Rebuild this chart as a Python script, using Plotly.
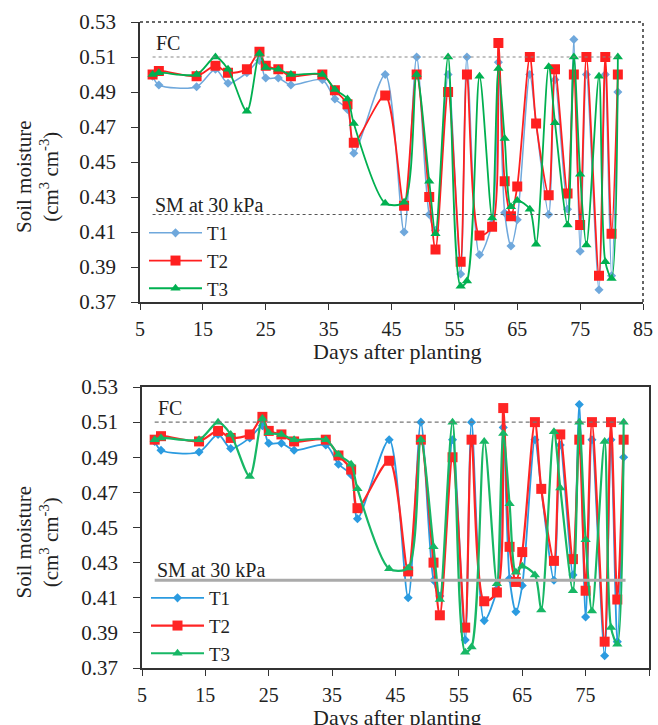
import plotly.graph_objects as go

# ---------------- data ----------------
days = [7, 8, 14, 17, 19, 22, 24, 25, 27, 29,
        34, 36, 38, 39, 44, 47, 49, 51, 52, 54,
        56, 57, 59, 61, 62, 63, 64, 65, 67, 68,
        70, 71, 73, 74, 75, 76, 78, 79, 80, 81]

t1 = [0.499, 0.494, 0.493, 0.503, 0.495, 0.501, 0.508, 0.498, 0.498, 0.494,
      0.497, 0.486, 0.480, 0.455, 0.500, 0.410, 0.510, 0.420, 0.411, 0.500,
      0.386, 0.510, 0.397, 0.415, 0.507, 0.421, 0.402, 0.417, 0.500, 0.472,
      0.420, 0.497, 0.423, 0.520, 0.399, 0.500, 0.377, 0.500, 0.385, 0.490]

t2 = [0.500, 0.502, 0.499, 0.505, 0.501, 0.503, 0.513, 0.505, 0.503, 0.499,
      0.500, 0.491, 0.483, 0.461, 0.488, 0.425, 0.500, 0.430, 0.400, 0.490,
      0.393, 0.500, 0.408, 0.413, 0.518, 0.439, 0.419, 0.436, 0.510, 0.472,
      0.431, 0.503, 0.432, 0.500, 0.414, 0.510, 0.385, 0.510, 0.409, 0.500]

t3 = [0.500, 0.501, 0.500, 0.510, 0.503, 0.479, 0.512, 0.504, 0.503, 0.500,
      0.500, 0.4915, 0.486, 0.472, 0.4265, 0.427, 0.500, 0.439, 0.409, 0.510,
      0.379, 0.382, 0.499, 0.418, 0.5035, 0.4635, 0.4245, 0.428, 0.423, 0.403,
      0.5045, 0.4725, 0.414, 0.510, 0.443, 0.4025, 0.499, 0.393, 0.3835, 0.510]

series_names = ["T1", "T2", "T3"]
fc_value = 0.51
sm30_value = 0.42
ref_start, ref_end = 7, 81.3
x_ticks = [5, 15, 25, 35, 45, 55, 65, 75, 85]
y_ticks = [0.37, 0.39, 0.41, 0.43, 0.45, 0.47, 0.49, 0.51, 0.53]

FONT = "Liberation Serif, Times New Roman, Tinos, DejaVu Serif, serif"
W, H = 658, 725

def px_x(p):
    return p / W

def px_y(p):
    return 1 - p / H

panels = [
    dict(xa="x", ya="y", lg="legend", x0=140, x1=643, y0=22, y1=302,
         colors=["#6FA8DC", "#FF1F1F", "#00B050"], lw=[1.5, 1.8, 1.8]),
    dict(xa="x2", ya="y2", lg="legend2", x0=142, x1=649, y0=387, y1=668,
         colors=["#2B9BE0", "#FF2525", "#17B765"], lw=[1.8, 2.2, 2.2]),
]

symbols = ["diamond", "square", "triangle-up"]
sizes = [7, 10, 9]
values = [t1, t2, t3]

fig = go.Figure()
for p in panels:
    for i in range(3):
        fig.add_trace(go.Scatter(
            x=days, y=values[i], name=series_names[i], mode="lines+markers",
            xaxis=p["xa"], yaxis=p["ya"], legend=p["lg"],
            line=dict(color=p["colors"][i], width=p["lw"][i], shape="spline", smoothing=0.8),
            marker=dict(symbol=symbols[i], size=sizes[i], color=p["colors"][i],
                        line=dict(width=0)),
        ))

layout = dict(
    template="none",
    width=W, height=H, paper_bgcolor="white", plot_bgcolor="white",
    margin=dict(l=0, r=0, t=0, b=0, autoexpand=False), showlegend=True,
    font=dict(family=FONT, color="#222"),
)

shapes = []
annotations = []
for k, p in enumerate(panels):
    sfx = "" if k == 0 else "2"
    layout["xaxis" + sfx] = dict(
        showgrid=False, zeroline=False, ticks="outside", automargin=False,
        tickfont=dict(family=FONT, size=20, color="#222"),
        domain=[px_x(p["x0"]), px_x(p["x1"])], anchor="y" + sfx,
        range=[5, 85], tickvals=x_ticks, ticklen=6, tickcolor="#333", showline=True,
        linecolor="#333", linewidth=1.5, mirror=(k == 1), ticklabelstandoff=2,
    )
    layout["yaxis" + sfx] = dict(
        showgrid=False, zeroline=False, ticks="outside", automargin=False,
        domain=[px_y(p["y1"]), px_y(p["y0"])], anchor="x" + sfx,
        range=[0.37, 0.53], tickvals=y_ticks, tickformat=".2f", ticklen=7, tickcolor="#333",
        showline=True, linecolor="#333", linewidth=1.5, mirror=(k == 1),
        ticklabelstandoff=11, tickfont=dict(family=FONT, size=21, color="#222"),
    )
    layout["legend" + ("" if k == 0 else "2")] = dict(
        x=px_x(p["x0"] + 4), y=px_y(p["y0"] + 192 + (0 if k == 0 else 0)),
        xanchor="left", yanchor="top", bgcolor="rgba(0,0,0,0)",
        font=dict(family=FONT, size=19, color="#222"), itemwidth=53,
        tracegroupgap=0,
    )
    xr, yr = p["xa"], p["ya"]
    if k == 0:
        shapes.append(dict(type="line", xref=xr, yref=yr, x0=ref_start, x1=ref_end,
                           y0=fc_value, y1=fc_value, line=dict(color="#888", width=1.2, dash="dot")))
        shapes.append(dict(type="line", xref=xr, yref=yr, x0=ref_start, x1=ref_end,
                           y0=sm30_value, y1=sm30_value, line=dict(color="#555", width=1.2, dash="dot")))
        shapes.append(dict(type="line", xref=xr + " domain", yref=yr + " domain", x0=0, x1=1,
                           y0=1, y1=1, line=dict(color="#333", width=1.5, dash="dot")))
        shapes.append(dict(type="line", xref=xr + " domain", yref=yr + " domain", x0=1, x1=1,
                           y0=0, y1=1, line=dict(color="#333", width=1.5, dash="dot")))
    else:
        shapes.append(dict(type="line", xref=xr, yref=yr, x0=ref_start, x1=ref_end,
                           y0=fc_value, y1=fc_value, line=dict(color="#777", width=1.2, dash="4px,3px")))
        shapes.append(dict(type="line", xref=xr, yref=yr, x0=ref_start, x1=ref_end,
                           y0=sm30_value, y1=sm30_value, line=dict(color="#AAAAAA", width=3)))

    annotations.append(dict(text="FC", xref="paper", yref="paper",
                            x=px_x(p["x0"] + 14), y=px_y(p["y0"] + 21),
                            xanchor="left", yanchor="middle", showarrow=False,
                            font=dict(family=FONT, size=20, color="#222")))
    annotations.append(dict(text="SM at 30 kPa", xref="paper", yref="paper",
                            x=px_x(p["x0"] + 13), y=px_y(p["y0"] + 183),
                            xanchor="left", yanchor="middle", showarrow=False,
                            font=dict(family=FONT, size=20, color="#222")))
    annotations.append(dict(text="Days after planting", xref="paper", yref="paper",
                            x=px_x(397), y=px_y(p["y1"] + 49),
                            xanchor="center", yanchor="middle", showarrow=False,
                            font=dict(family=FONT, size=22, color="#222")))
    annotations.append(dict(text="Soil moisture<br>(cm<sup>3</sup> cm<sup>-3</sup>)",
                            xref="paper", yref="paper",
                            x=px_x(37), y=px_y((p["y0"] + p["y1"]) / 2 + 15),
                            xanchor="center", yanchor="middle", showarrow=False, textangle=-90,
                            font=dict(family=FONT, size=21, color="#222")))

layout["shapes"] = shapes
layout["annotations"] = annotations
fig.update_layout(layout)
fig.write_html("out.html", config={"displayModeBar": False},
               post_script="document.body.style.margin='0';")
